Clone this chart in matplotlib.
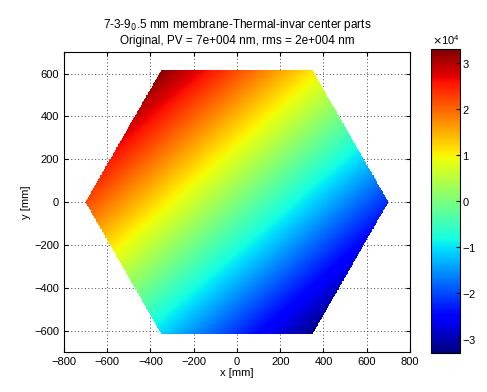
import matplotlib
matplotlib.use('Agg')
import matplotlib.pyplot as plt
import matplotlib.tri as mtri
import numpy as np
from matplotlib.ticker import ScalarFormatter

plt.rcParams['font.family'] = ['Liberation Sans', 'DejaVu Sans']
plt.rcParams['font.size'] = 8

# hexagon corners + centre (mm) and surface height (nm)
hex_x = [0, -350, 350, 700, 350, -350, -700]
hex_y = [0, 615, 615, 0, -615, -615, 0]
hex_z = [0, 32500, 11000, -22000, -32500, -11000, 22000]

x_ticks = [-800, -600, -400, -200, 0, 200, 400, 600, 800]
y_ticks = [-600, -400, -200, 0, 200, 400, 600]
cb_ticks = [-30000, -20000, -10000, 0, 10000, 20000, 30000]

fig = plt.figure(figsize=(4.87, 3.92), dpi=100)
ax = fig.add_axes([0.131, 0.102, 0.711, 0.765])
cax = fig.add_axes([0.885, 0.0995, 0.06, 0.776])

# interpolate the read values over the hexagon (masked outside)
tri = mtri.Triangulation(hex_x, hex_y)
interp = mtri.LinearTriInterpolator(tri, hex_z)
gx, gy = np.meshgrid(np.linspace(-702, 702, 469), np.linspace(-617, 617, 413))
gz = interp(gx, gy)
pc = ax.pcolormesh(gx, gy, gz, cmap='jet', vmin=-33000, vmax=33000,
                   shading='nearest', zorder=2)

ax.set_xlim(-800, 800)
ax.set_ylim(-700, 700)
ax.set_xticks(x_ticks)
ax.set_yticks(y_ticks)
ax.set_axisbelow(True)
ax.grid(True, color='#444444', linestyle=(0, (1, 2.5)), linewidth=0.7, zorder=0)
ax.tick_params(direction='in', length=3, top=True, right=True)
ax.set_xlabel('x [mm]', labelpad=1)
ax.set_ylabel('y [mm]', labelpad=2)
ax.set_title('7-3-9$_0$.5 mm membrane-Thermal-invar center parts\n'
             'Original, PV = 7e+004 nm, rms = 2e+004 nm', fontsize=8.5, pad=6)

cb = fig.colorbar(pc, cax=cax, ticks=cb_ticks)
fmt = ScalarFormatter(useMathText=True)
fmt.set_powerlimits((0, 0))
cb.ax.yaxis.set_major_formatter(fmt)
cb.ax.tick_params(direction='in', length=3, pad=1)
cb.outline.set_linewidth(0.8)

fig.savefig('out.png', dpi=100)
